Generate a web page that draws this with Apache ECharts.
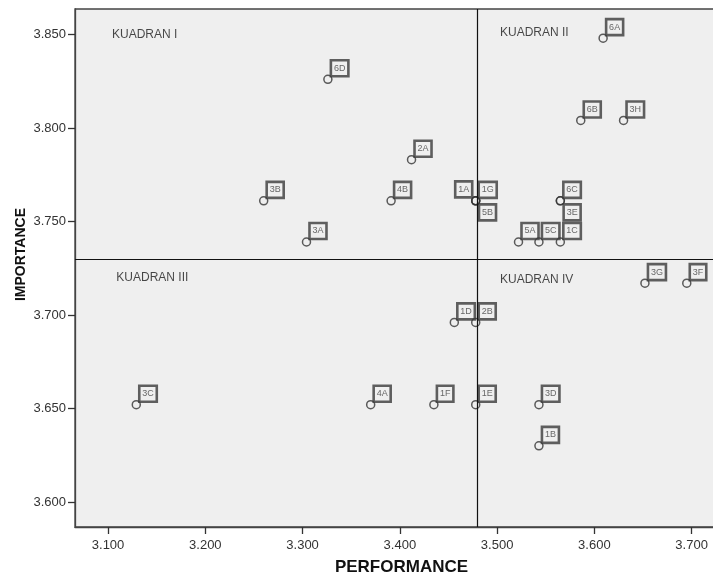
<!DOCTYPE html>
<html><head><meta charset="utf-8">
<script src="https://cdn.jsdelivr.net/npm/echarts@6/dist/echarts.min.js"></script>
<style>html,body{margin:0;padding:0;background:#fff;overflow:hidden}#c{width:713px;height:577px}</style>
</head><body><div id="c"></div><script>
// ---- data ----
const pointNames = ['6D','6A','6B','3H','2A','3B','4B','1A','1G','5B','6C','3E','3A','5A','5C','1C','3G','3F','1D','2B','3C','4A','1F','1E','3D','1B'];
const performance = [3.326,3.609,3.586,3.630,3.412,3.260,3.391,3.478,3.478,3.478,3.565,3.565,3.304,3.522,3.543,3.565,3.652,3.695,3.456,3.478,3.129,3.370,3.435,3.478,3.543,3.543];
const importance  = [3.826,3.848,3.804,3.804,3.783,3.761,3.761,3.761,3.761,3.761,3.761,3.761,3.739,3.739,3.739,3.739,3.717,3.717,3.696,3.696,3.652,3.652,3.652,3.652,3.652,3.630];
const xTicks = [3.1,3.2,3.3,3.4,3.5,3.6,3.7];
const yTicks = [3.6,3.65,3.7,3.75,3.8,3.85];
const meanPerformance = 3.480;
const meanImportance = 3.733;
const quadrantNames = ['KUADRAN I','KUADRAN II','KUADRAN III','KUADRAN IV'];
const quadrantPerf  = [3.104,3.503,3.1085,3.503];
const quadrantImp   = [3.850,3.851,3.7197,3.7186];

// ---- label placement (style) ----
const placement = {'1A':'left','5B':'below','3E':'below'};
function labelFor(name){
  const p = placement[name] || 'above';
  if (p === 'left') return {align:'right', verticalAlign:'bottom', offset:[-3.5,-3.5]};
  if (p === 'below') return {align:'left', verticalAlign:'top', offset:[3.3,3.5]};
  return {align:'left', verticalAlign:'bottom', offset:[3,-3]};
}

const pts = pointNames.map((n,i)=>({name:n, value:[performance[i], importance[i]], label:labelFor(n)}));
const quads = quadrantNames.map((n,i)=>({name:n, value:[quadrantPerf[i], quadrantImp[i]]}));

const chart = echarts.init(document.getElementById('c'), null, {renderer:'canvas'});
const tickFont = {fontFamily:'Liberation Sans, Arial, sans-serif', fontSize:13, color:'#333'};
chart.setOption({
  animation:false,
  backgroundColor:'#fff',
  grid:{left:75, top:9, right:-1, bottom:50, containLabel:false, outerBoundsMode:'none',
    show:true, backgroundColor:'#efefef', borderColor:'#444', borderWidth:1.3},
  xAxis:{
    type:'value', min:3.066, max:3.723,
    name:'PERFORMANCE', nameLocation:'middle', nameGap:32, nameMoveOverlap:false,
    nameTextStyle:{fontFamily:'Liberation Sans, Arial, sans-serif', fontWeight:'bold', fontSize:17, color:'#111', padding:[0,0,0,14]},
    axisLine:{show:true, onZero:false, lineStyle:{color:'#444', width:1.3}},
    axisTick:{show:true, length:7, customValues:xTicks, lineStyle:{color:'#333', width:1.3}},
    axisLabel:Object.assign({customValues:xTicks, margin:12, formatter:v=>v.toFixed(3)}, tickFont),
    splitLine:{show:false}
  },
  yAxis:{
    type:'value', min:3.5866, max:3.8636,
    name:'IMPORTANCE', nameLocation:'middle', nameGap:47, nameMoveOverlap:false,
    nameTextStyle:{fontFamily:'Liberation Sans, Arial, sans-serif', fontWeight:'bold', fontSize:14, color:'#111', padding:[0,0,0,27]},
    axisLine:{show:true, onZero:false, lineStyle:{color:'#444', width:1.3}},
    axisTick:{show:true, length:7, customValues:yTicks, lineStyle:{color:'#333', width:1.3}},
    axisLabel:Object.assign({customValues:yTicks, margin:9, formatter:v=>v.toFixed(3)}, tickFont),
    splitLine:{show:false}
  },
  series:[
    {
      type:'scatter', data:pts, symbol:'circle', symbolSize:8,
      itemStyle:{color:'rgba(0,0,0,0)', borderColor:'#333', borderWidth:1.5},
      label:{show:true, position:'inside', formatter:p=>p.name, fontFamily:'Liberation Sans, Arial, sans-serif', fontSize:9, lineHeight:10, color:'#444',
        borderColor:'#3a3a3a', borderWidth:1.3, padding:[3,3,3,3], backgroundColor:'rgba(0,0,0,0)'},
      emphasis:{disabled:true},
      markLine:{silent:true, symbol:'none', label:{show:false}, lineStyle:{color:'#111', width:1.2, type:'solid'},
        data:[{xAxis:meanPerformance},{yAxis:meanImportance}]}
    },
    {
      type:'scatter', data:quads, symbolSize:1, itemStyle:{color:'rgba(0,0,0,0)'},
      label:{show:true, position:'inside', align:'left', verticalAlign:'middle', formatter:p=>p.name,
        fontFamily:'Liberation Sans, Arial, sans-serif', fontSize:12, color:'#1a1a1a'},
      emphasis:{disabled:true}, silent:true
    }
  ]
});
</script></body></html>
